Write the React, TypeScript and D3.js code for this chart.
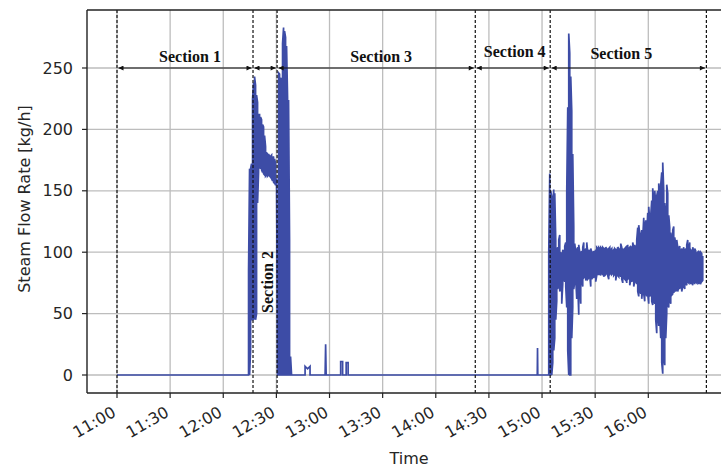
import React from "react";
import * as d3 from "d3";

// ---------- data ----------
// time in minutes after 11:00
const xTickMinutes = [0, 30, 60, 90, 120, 150, 180, 210, 240, 270, 300];
const xTickLabels = ["11:00", "11:30", "12:00", "12:30", "13:00", "13:30", "14:00", "14:30", "15:00", "15:30", "16:00"];
const yTickValues = [0, 50, 100, 150, 200, 250];

const sectionBounds = [0, 76.8, 90.4, 202.3, 244.6, 332.8];
const sectionNames = ["Section 1", "Section 2", "Section 3", "Section 4", "Section 5"];

// sampling interval of the dense (1-sample-per-pixel) blocks, minutes
const sampleStep = 0.5646;

// idle line before start-up
const idleBefore: [number, number][] = [
  [0, 0],
  [74.0, 0],
];

// start-up block (sections 2/3 boundary), min / max per sample
const startupStart = 74.29;
const startupLo = [
  0, 0, 20, 45, 45, 45, 48, 45, 50, 140, 165, 170, 168, 167, 165, 164, 163, 162, 163, 162,
  163, 162, 161, 160, 158, 157, 156, 155, 155, 0, 0, 0, 0, 0, 0, 0, 0, 0, 0, 0, 0, 0, 0, 0,
];
const startupHi = [
  85, 168, 168, 172, 225, 238, 243, 236, 228, 222, 212, 212, 210, 208, 204, 202, 195, 186, 181, 180,
  180, 178, 178, 179, 176, 178, 176, 172, 160, 0, 246, 245, 242, 240, 270, 283, 280, 275, 268, 226,
  224, 110, 15, 0,
];

// idle period with small blips
const idleSpikes: [number, number][] = [
  [98.9, 0], [106.2, 0], [106.2, 7], [107.6, 5], [109.0, 7], [109.0, 0],
  [117.5, 0], [117.8, 25], [118.1, 0],
  [126.3, 0], [126.3, 11], [127.4, 11], [127.4, 0],
  [129.4, 0], [129.4, 10], [130.5, 10], [130.5, 0],
  [237.3, 0], [237.45, 22], [237.6, 0],
  [243.6, 0],
];

// section 5 block, min / max per sample
const section5Start = 243.79;
const section5Lo = [
  0, 0, 0, 0, 10, 20, 30, 45, 60, 70, 74, 68, 72, 58, 74, 78, 76, 72, 55, 20,
  0, 0, 0, 30, 55, 70, 76, 78, 62, 74, 49, 72, 58, 78, 72, 79, 80, 77, 80, 78,
  79, 81, 72, 78, 80, 79, 81, 76, 81, 82, 82, 83, 81, 83, 82, 80, 83, 82, 83, 81,
  78, 82, 83, 82, 83, 81, 82, 77, 82, 81, 80, 82, 80, 78, 75, 79, 78, 80, 75, 78,
  79, 73, 77, 76, 78, 72, 76, 77, 74, 68, 64, 70, 66, 62, 70, 66, 60, 68, 64, 66,
  58, 64, 66, 60, 57, 62, 58, 45, 34, 50, 40, 48, 30, 10, 1, 15, 8, 30, 50, 58,
  55, 62, 58, 65, 66, 67, 70, 68, 72, 68, 72, 70, 74, 68, 72, 74, 70, 75, 73, 76,
  75, 77, 74, 76, 73, 77, 74, 76, 75, 77, 74, 76, 74, 76, 77,
];
const section5Hi = [
  100, 164, 150, 145, 138, 151, 148, 110, 102, 104, 110, 114, 100, 98, 102, 100, 105, 108, 150, 218,
  278, 262, 243, 215, 180, 121, 107, 100, 102, 104, 106, 100, 99, 101, 104, 108, 101, 103, 108, 100,
  102, 100, 103, 100, 99, 101, 100, 102, 104, 103, 104, 103, 104, 103, 104, 103, 102, 104, 103, 102,
  103, 104, 102, 103, 101, 102, 103, 102, 101, 104, 103, 102, 107, 104, 103, 101, 103, 104, 102, 106,
  103, 104, 105, 102, 108, 104, 106, 102, 110, 120, 122, 115, 110, 118, 112, 128, 120, 126, 115, 132,
  137, 125, 130, 142, 152, 138, 150, 140, 146, 150, 156, 148, 155, 165, 173, 150, 140, 130, 155, 148,
  130, 120, 116, 110, 118, 121, 112, 106, 110, 104, 103, 105, 100, 103, 100, 104, 101, 103, 106, 110,
  102, 108, 102, 101, 104, 100, 103, 101, 99, 100, 101, 98, 100, 99, 97,
];

// ---------- layout ----------
const W = 721;
const H = 467;
const plotLeft = 87;
const plotTop = 10;
const plotBottom = 393;
const plotRight = 730;
const blue = "#3d4ca6";
const labelFont = "'DejaVu Sans', Verdana, sans-serif";
const serifFont = "'Liberation Serif', 'Times New Roman', serif";
const labelDx = [5, 0, 5, 2, -7];
const labelY = [62, 0, 62, 57, 58.5];

function blockPoints(start: number, lo: number[], hi: number[]): [number, number][] {
  const pts: [number, number][] = [];
  lo.forEach((l, i) => {
    const t = start + i * sampleStep;
    if (i % 2 === 0) {
      pts.push([t, l], [t, hi[i]]);
    } else {
      pts.push([t, hi[i]], [t, l]);
    }
  });
  return pts;
}

export default function App() {
  const x = d3.scaleLinear().domain([0, 300]).range([117, 648.3]);
  const y = d3.scaleLinear().domain([0, 250]).range([375, 68]);

  const points: [number, number][] = [
    ...idleBefore,
    ...blockPoints(startupStart, startupLo, startupHi),
    ...idleSpikes,
    ...blockPoints(section5Start, section5Lo, section5Hi),
  ];
  const line = d3
    .line<[number, number]>()
    .x((d) => x(d[0]))
    .y((d) => y(d[1]));

  const arrowY = y(250);

  return (
    <svg width={W} height={H} style={{ display: "block", position: "absolute", left: 0, top: 0, background: "#fff" }}>
      <defs>
        <clipPath id="plotClip">
          <rect x={plotLeft} y={plotTop} width={plotRight - plotLeft} height={plotBottom - plotTop} />
        </clipPath>
        <marker id="ah" viewBox="0 0 10 10" refX="10" refY="5" markerWidth="6" markerHeight="5" orient="auto-start-reverse" markerUnits="userSpaceOnUse">
          <path d="M0,0 L10,5 L0,10 z" fill="#111" />
        </marker>
      </defs>
      <rect x={0} y={0} width={W} height={H} fill="#fff" />

      {/* grid */}
      <g stroke="#bdbdbd" strokeWidth={1.3}>
        {yTickValues.map((v) => (
          <line key={"gy" + v} x1={plotLeft} x2={W} y1={y(v)} y2={y(v)} />
        ))}
        {xTickMinutes.map((m) => (
          <line key={"gx" + m} x1={x(m)} x2={x(m)} y1={plotTop} y2={plotBottom} />
        ))}
      </g>

      {/* series */}
      <g clipPath="url(#plotClip)">
        <path d={line(points) || ""} fill="none" stroke={blue} strokeWidth={1.7} strokeLinejoin="miter" />
      </g>

      {/* section boundaries */}
      <g stroke="#111" strokeWidth={1.2} strokeDasharray="3,2">
        {sectionBounds.map((m, i) => (
          <line key={"sb" + i} x1={x(m)} x2={x(m)} y1={plotTop} y2={plotBottom} />
        ))}
      </g>

      {/* arrows */}
      <g stroke="#111" strokeWidth={1.2}>
        {sectionNames.map((n, i) => (
          <line
            key={"ar" + i}
            x1={x(sectionBounds[i]) + 1.5}
            x2={x(sectionBounds[i + 1]) - 1.5}
            y1={arrowY}
            y2={arrowY}
            markerStart="url(#ah)"
            markerEnd="url(#ah)"
          />
        ))}
      </g>

      {/* section labels */}
      <g fontFamily={serifFont} fontWeight="bold" fontSize={16} fill="#111">
        {sectionNames.map((n, i) => {
          const cx = (x(sectionBounds[i]) + x(sectionBounds[i + 1])) / 2 + labelDx[i];
          if (i === 1) {
            return (
              <text key={n} transform={`translate(${cx + 8},282) rotate(-90)`} textAnchor="middle">
                {n}
              </text>
            );
          }
          return (
            <text key={n} x={cx} y={labelY[i]} textAnchor="middle">
              {n}
            </text>
          );
        })}
      </g>

      {/* spines */}
      <g stroke="#222" strokeWidth={1.4} fill="none">
        <line x1={plotLeft} x2={plotLeft} y1={plotTop} y2={plotBottom} />
        <line x1={plotLeft} x2={W} y1={plotTop} y2={plotTop} />
        <line x1={plotLeft} x2={W} y1={plotBottom} y2={plotBottom} />
      </g>

      {/* y axis */}
      <g fontFamily={labelFont} fontSize={16} fill="#262626">
        {yTickValues.map((v) => (
          <g key={"yt" + v}>
            <line x1={plotLeft - 5} x2={plotLeft} y1={y(v)} y2={y(v)} stroke="#222" strokeWidth={1.2} />
            <text x={73} y={y(v)} textAnchor="end" dominantBaseline="central">
              {v}
            </text>
          </g>
        ))}
        <text transform={`translate(30,199) rotate(-90)`} textAnchor="middle">
          Steam Flow Rate [kg/h]
        </text>
      </g>

      {/* x axis */}
      <g fontFamily={labelFont} fontSize={16} fill="#262626">
        {xTickMinutes.map((m, i) => (
          <g key={"xt" + m}>
            <line x1={x(m)} x2={x(m)} y1={plotBottom} y2={plotBottom + 5} stroke="#222" strokeWidth={1.2} />
            <text transform={`translate(${x(m) - 6},${plotBottom + 12}) rotate(-30)`} textAnchor="end" dy="0.75em">
              {xTickLabels[i]}
            </text>
          </g>
        ))}
        <text x={409} y={464} textAnchor="middle">
          Time
        </text>
      </g>
    </svg>
  );
}
